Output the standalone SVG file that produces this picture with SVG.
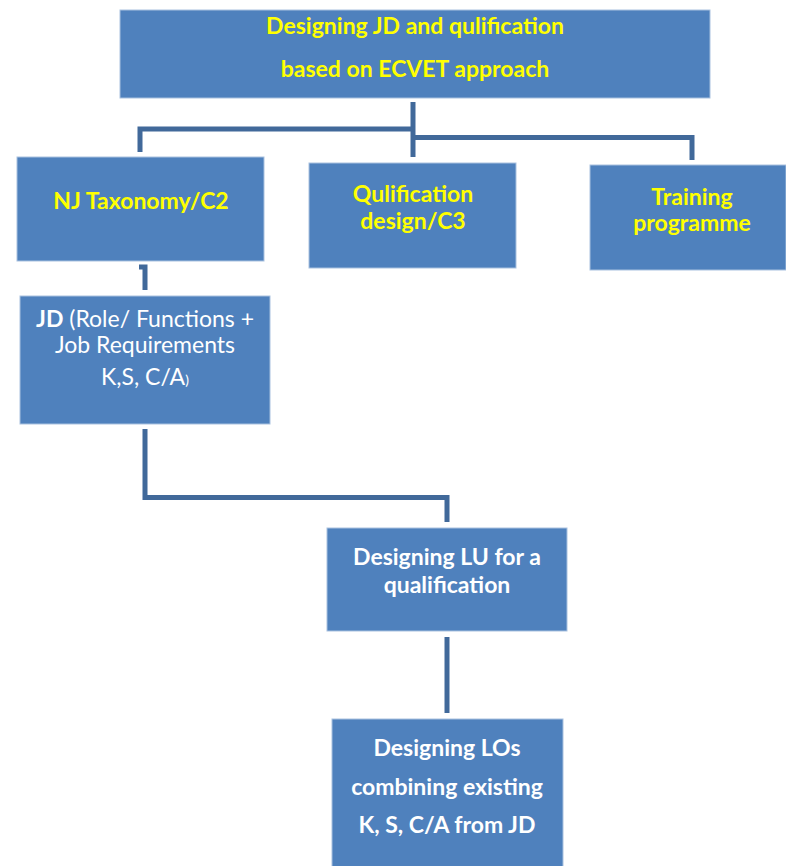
<svg xmlns="http://www.w3.org/2000/svg" width="786" height="866" viewBox="0 0 786 866">
<style>
.box{fill:#4F81BD;stroke:#A9C1DF;stroke-width:1}
.con{fill:none;stroke:#41699A;stroke-width:5;stroke-linejoin:miter}
text{font-family:Lato,"Open Sans","Liberation Sans",sans-serif;font-size:23px;text-anchor:middle}
.y{fill:#FFFF00;font-weight:bold}
.w{fill:#FFFFFF;font-weight:bold}
.wr{fill:#FFFFFF;font-weight:normal}
</style>
<rect width="786" height="866" fill="#FFFFFF"/>
<g id="connectors">
<path class="con" d="M413,102 V157"/>
<path class="con" d="M415,129 H140 V152"/>
<path class="con" d="M411,137.5 H692 V160"/>
<path class="con" d="M139,267 H145 V290"/>
<path class="con" d="M145,429 V497.5 H447 V522"/>
<path class="con" d="M447,637 V713"/>
</g>
<g id="top">
<rect class="box" x="120" y="10" width="590" height="88"/>
<text class="y" x="415" y="34">Designing JD and qulification</text>
<text class="y" x="415" y="77">based on ECVET approach</text>
</g>
<g id="taxonomy">
<rect class="box" x="17" y="157" width="247" height="104"/>
<text class="y" x="141" y="209">NJ Taxonomy/C2</text>
</g>
<g id="qualification">
<rect class="box" x="309" y="163" width="207" height="105"/>
<text class="y" x="413" y="202">Qulification</text>
<text class="y" x="413" y="229">design/C3</text>
</g>
<g id="training">
<rect class="box" x="590" y="165" width="196" height="105"/>
<text class="y" x="692" y="205">Training</text>
<text class="y" x="692" y="231">programme</text>
</g>
<g id="jd">
<rect class="box" x="20" y="296" width="250" height="128"/>
<text class="wr" x="145" y="327"><tspan class="w">JD</tspan> (Role/ Functions +</text>
<text class="wr" x="145" y="353">Job Requirements</text>
<text class="wr" x="145" y="385">K,S, C/A<tspan font-size="14">)</tspan></text>
</g>
<g id="lu">
<rect class="box" x="327" y="528" width="240" height="103"/>
<text class="w" x="447" y="565">Designing LU for a</text>
<text class="w" x="447" y="593">qualification</text>
</g>
<g id="los">
<rect class="box" x="332" y="719" width="231" height="150"/>
<text class="w" x="447" y="756">Designing LOs</text>
<text class="w" x="447" y="795">combining existing</text>
<text class="w" x="447" y="833">K, S, C/A from JD</text>
</g>
</svg>
